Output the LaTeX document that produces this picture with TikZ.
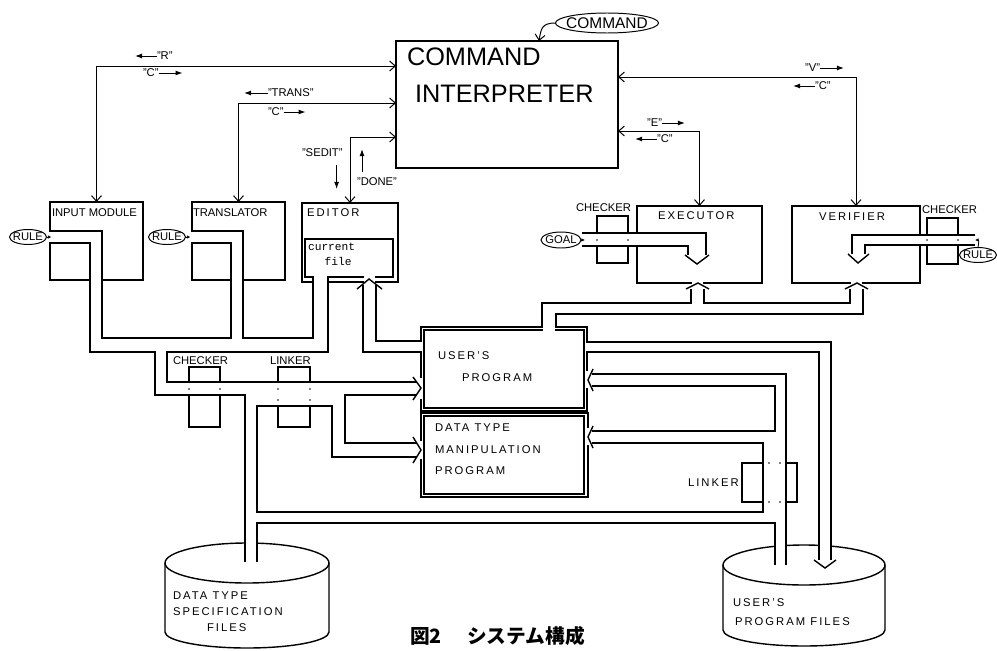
\documentclass[tikz,border=0pt]{standalone}
\usepackage{fontspec}
\setmainfont{Liberation Sans}
\newfontfamily\typefont{Liberation Mono}
\newfontfamily\jpfont{Noto Sans CJK JP}
\usetikzlibrary{arrows.meta,calc,positioning,shapes.geometric}
\newcommand{\sm}{\fontsize{8}{9}\selectfont}
\newcommand{\spc}{\addfontfeature{LetterSpace=18}}
% drum: x, top centre y, bottom centre y, x radius
\newcommand{\drum}[4]{
 \draw[edge] (#1,#2) ellipse [x radius=#4, y radius=20];
 \draw[edge] (#1-#4,#2) -- (#1-#4,#3) arc[start angle=180,end angle=0,x radius=#4,y radius=16] -- (#1+#4,#2);
}
\tikzset{
 every node/.append style={inner sep=0pt,outer sep=0pt},
 word/.style={font=\sm,anchor=west},
 wide/.style={font=\sm\spc,anchor=west},
 frame/.style={draw,line width=1pt,anchor=north west},
 edge/.style={line width=1pt},
 call/.style={line width=.7pt,{Straight Barb[length=4pt,width=7pt]}-{Straight Barb[length=4pt,width=7pt]}},
 feed/.style={line width=.7pt,-{Straight Barb[length=4pt,width=7pt]}},
 hint/.style={line width=.7pt,-{Latex[length=5pt,width=3.5pt]}},
 tiny/.style={line width=.6pt,-{Latex[length=2.5pt,width=2.5pt]}},
 oval/.style={draw,ellipse,line width=.7pt},
 erase/.style={fill=white},
}

\begin{document}
\begin{tikzpicture}[x=.25mm,y=-.25mm]

\useasboundingbox (0,0) rectangle (997,650);

% boxes
\node[frame,minimum width=222*.25mm,minimum height=127*.25mm] (ci) at (396,41) {};
\node[anchor=west,font=\fontsize{18}{20}\selectfont] (cit1) at (407,57) {COMMAND};
\node[anchor=west,font=\fontsize{18}{20}\selectfont] (cit2) at (415,94) {INTERPRETER};
\node[oval,minimum width=103*.25mm,minimum height=20*.25mm] (cmd) at (607,23) {};
\node[font=\fontsize{11}{12}\selectfont] (cmdt) at (cmd) {COMMAND};

\node[frame,minimum width=93*.25mm,minimum height=78*.25mm] (im) at (50,202) {};
\node[frame,minimum width=93*.25mm,minimum height=78*.25mm] (tr) at (192,202) {};
\node[frame,minimum width=96*.25mm,minimum height=79*.25mm] (ed) at (302,203) {};
\node[frame,minimum width=88*.25mm,minimum height=38*.25mm] (cf) at (305,239) {};
\node[frame,minimum width=125*.25mm,minimum height=77*.25mm] (ex) at (637,206) {};
\node[frame,minimum width=128*.25mm,minimum height=77*.25mm] (vf) at (792,206) {};
\node[frame,minimum width=31*.25mm,minimum height=47*.25mm] (ckx) at (597,216) {};
\node[frame,minimum width=31*.25mm,minimum height=46*.25mm] (ckv) at (927,218) {};
\node[frame,minimum width=31*.25mm,minimum height=60*.25mm] (ckl) at (189,367) {};
\node[frame,minimum width=32*.25mm,minimum height=60*.25mm] (lkl) at (278,367) {};
\node[frame,minimum width=55*.25mm,minimum height=39*.25mm] (lkr) at (742,463) {};
\node[frame,minimum width=166*.25mm,minimum height=84*.25mm] (up) at (421,327) {};
\node[frame,minimum width=160*.25mm,minimum height=78*.25mm] (upi) at (424,330) {};
\node[frame,minimum width=167*.25mm,minimum height=84*.25mm] (dm) at (421,413) {};
\node[frame,minimum width=160*.25mm,minimum height=78*.25mm] (dmi) at (424,416) {};

\node[oval,minimum width=37*.25mm,minimum height=15*.25mm] (ru1) at (28,237) {};
\node[oval,minimum width=37*.25mm,minimum height=15*.25mm] (ru2) at (167,237) {};
\node[oval,minimum width=37*.25mm,minimum height=15*.25mm] (ru3) at (978,255) {};
\node[oval,minimum width=40*.25mm,minimum height=16*.25mm] (gl) at (561,240) {};

% files
\drum{247}{563}{632}{82}
\drum{804}{565}{630}{81}

% connectors to the interpreter
\draw[call] (im.north) |- ($(ci.north west)+(0,25)$);
\draw[call] (tr.north) |- ($(ci.north west)+(0,62)$);
\draw[call] (ed.north) |- ($(ci.north west)+(0,96)$);
\draw[call] (vf.north) |- ($(ci.north east)+(0,36)$);
\draw[call] (ex.north) |- ($(ci.north east)+(0,90)$);
\draw[feed] (cmd.west) .. controls +(-14,0) and +(2,-12) .. ($(ci.north west)+(143,0)$);

% message labels
\node[word] (qr) at (157,56) {"R"};
\draw[hint] (qr.west) -- ++(-22,0);
\node[word] (qc1) at (143,73) {"C"};
\draw[hint] (qc1.east) -- ++(24,0);
\node[word] (qt) at (268,93) {"TRANS"};
\draw[hint] (qt.west) -- ++(-24,0);
\node[word] (qc2) at (268,112) {"C"};
\draw[hint] (qc2.east) -- ++(22,0);
\node[word] (qs) at (302,153) {"SEDIT"};
\draw[hint] ($(qs.south east)+(-6,8)$) -- ++(0,24);
\node[word] (qd) at (357,182) {"DONE"};
\draw[hint] ($(qd.north west)+(5,-6)$) -- ++(0,-23);
\node[word] (qe) at (647,123) {"E"};
\draw[hint] (qe.east) -- ++(23,0);
\node[word] (qc3) at (657,139) {"C"};
\draw[hint] (qc3.west) -- ++(-22,0);
\node[word] (qv) at (805,68) {"V"};
\draw[hint] (qv.east) -- ++(24,0);
\node[word] (qc4) at (815,86) {"C"};
\draw[hint] (qc4.west) -- ++(-22,0);

% openings
\fill[erase] (48,232) rectangle (52,242);
\fill[erase] (91,278) rectangle (101,282);
\fill[erase] (190,232) rectangle (194,242);
\fill[erase] (232,278) rectangle (242,282);
\fill[erase] (314,275) rectangle (327,284);
\fill[erase] (364,275) rectangle (375,284);
\fill[erase] (595,234) rectangle (599,245);
\fill[erase] (626,234) rectangle (639,245);
\fill[erase] (692,281) rectangle (703,285);
\fill[erase] (918,236) rectangle (929,244);
\fill[erase] (956,236) rectangle (960,244);
\fill[erase] (851,281) rectangle (862,285);
\fill[erase] (187,383) rectangle (222,394);
\fill[erase] (276,383) rectangle (312,405);
\fill[erase] (764,461) rectangle (785,465);
\fill[erase] (764,500) rectangle (785,504);
\fill[erase] (543,325) rectangle (555,332);
\fill[erase] (419,342) rectangle (423,351);
\fill[erase] (419,378) rectangle (423,399);
\fill[erase] (585,343) rectangle (589,351);
\fill[erase] (585,371) rectangle (589,388);
\fill[erase] (419,441) rectangle (423,459);
\fill[erase] (586,428) rectangle (590,445);
\fill[erase] (246,539) rectangle (256,549);
\fill[erase] (776,540) rectangle (785,551);
\fill[erase] (820,540) rectangle (830,551);

% data paths
\draw[edge] (50,231) -- (102,231) -- (102,338) -- (231,338) -- (231,243) -- (192,243);
\draw[edge] (50,243) -- (90,243) -- (90,352) -- (155,352) -- (155,395) -- (245,395) -- (245,562);
\draw[edge] (192,231) -- (243,231) -- (243,338) -- (313,338) -- (313,277);
\draw[edge] (328,277) -- (328,352) -- (167,352) -- (167,382) -- (417,382);
\draw[edge] (417,395) -- (345,395) -- (345,443) -- (417,443);
\draw[edge] (417,457) -- (332,457) -- (332,406) -- (257,406) -- (257,512) -- (763,512) -- (763,443) -- (592,443);
\draw[edge] (257,562) -- (257,523) -- (775,523) -- (775,565);
\draw[edge] (786,565) -- (786,374) -- (592,374);
\draw[edge] (592,386) -- (775,386) -- (775,431) -- (592,431);
\draw[edge] (691,289) -- (691,303) -- (542,303) -- (542,327);
\draw[edge] (421,341) -- (376,341) -- (376,285);
\draw[edge] (363,285) -- (363,352) -- (421,352);
\draw[edge] (704,289) -- (704,303) -- (850,303) -- (850,289);
\draw[edge] (863,289) -- (863,314) -- (556,314) -- (556,327);
\draw[edge] (587,342) -- (831,342) -- (831,560);
\draw[edge] (587,352) -- (819,352) -- (819,560);
\draw[edge] (582,233) -- (706,233) -- (706,255);
\draw[edge] (582,246) -- (688,246) -- (688,255);
\draw[edge] (975,235) -- (852,235) -- (852,254);
\draw[edge] (975,245) -- (865,245) -- (865,254);

% heads
\draw[edge] (413,377) -- (421,388) -- (413,400);
\draw[edge] (413,437) -- (421,450) -- (413,463);
\draw[edge] (593,369) -- (588,380) -- (593,391);
\draw[edge] (593,426) -- (588,437) -- (593,448);
\draw[edge] (357,289) -- (369,279) -- (382,289);
\draw[edge] (686,289) -- (698,283) -- (709,289);
\draw[edge] (845,289) -- (857,283) -- (868,289);
\draw[edge] (685,255) -- (697,264) -- (709,255);
\draw[edge] (848,254) -- (858,263) -- (869,254);
\draw[edge] (814,560) -- (825,568) -- (836,560);

\foreach \p in {(597,240),(628,240),(927,240),(958,240),(189,389),(220,389),(278,389),(310,389),(278,400),(310,400),(769,463),(780,463),(769,502),(780,502)}
 \fill \p circle[radius=.6pt];

\draw[tiny] (ru1.east) -- ++(5,0);
\draw[tiny] (ru2.east) -- ++(5,0);
\draw[tiny] (gl.east) -- ++(4,0);
\draw[tiny] (ru3.north) .. controls +(1,-7) and +(4,0) .. (975,240);

% texts
\node[font=\sm] (ru1t) at (ru1) {RULE};
\node[font=\sm] (ru2t) at (ru2) {RULE};
\node[font=\sm] (ru3t) at (ru3) {RULE};
\node[font=\sm] (glt) at (gl) {GOAL};
\node[word] (imt) at (52,213) {INPUT MODULE};
\node[word] (trt) at (193,213) {TRANSLATOR};
\node[wide] (edt) at (307,213) {EDITOR};
\node[anchor=west,font=\typefont\sm] (cft1) at (308,247) {current};
\node[font=\typefont\sm] (cft2) at (338,261) {file};
\node[wide] (ext) at (658,216) {EXECUTOR};
\node[wide] (vft) at (819,217) {VERIFIER};
\node[word] (ck1) at (576,208) {CHECKER};
\node[word] (ck2) at (922,210) {CHECKER};
\node[word] (ck3) at (173,361) {CHECKER};
\node[word] (lk1) at (270,361) {LINKER};
\node[wide] (lk2) at (688,483) {LINKER};
\node[wide] (upt1) at (438,356) {USER'S};
\node[wide] (upt2) at (462,378) {PROGRAM};
\node[wide] (dmt1) at (435,428) {DATA TYPE};
\node[wide] (dmt2) at (435,450) {MANIPULATION};
\node[wide] (dmt3) at (435,471) {PROGRAM};
\node[wide] (dst1) at (173,596) {DATA TYPE};
\node[wide] (dst2) at (173,612) {SPECIFICATION};
\node[wide] (dst3) at (207,628) {FILES};
\node[wide] (uft1) at (733,603) {USER'S};
\node[wide] (uft2) at (735,622) {PROGRAM FILES};
\node[anchor=north west,font=\jpfont\bfseries\fontsize{14}{15}\selectfont] (cap) at (410,626) {図2\hspace{1.3em}システム構成};

\end{tikzpicture}
\end{document}
